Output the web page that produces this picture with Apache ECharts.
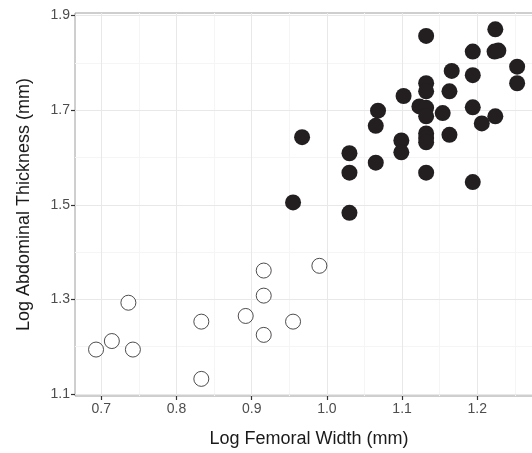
<!DOCTYPE html>
<html lang="en">
<head>
    <meta charset="UTF-8">
    <title>Femoral Width vs Abdominal Thickness</title>
    <script src="https://cdn.jsdelivr.net/npm/echarts@6/dist/echarts.min.js"></script>
    <style>
        html, body { margin: 0; background: #fff; overflow: hidden; }
        /* the panel runs a little past the right edge of the picture */
        #chart { width: 543px; height: 453px; }
    </style>
</head>
<body>
    <div id="chart"></div>
    <script>
        // Open circles (group 1)
        const openX = [0.693, 0.714, 0.736, 0.742, 0.833, 0.833, 0.892, 0.916, 0.916, 0.916, 0.955, 0.990];
        const openY = [1.194, 1.212, 1.293, 1.194, 1.253, 1.132, 1.265, 1.361, 1.308, 1.225, 1.253, 1.371];

        // Filled circles (group 2)
        const filledX = [1.132, 1.224, 1.194, 1.223, 1.228, 1.166, 1.194, 1.253, 1.253, 1.132,
                         1.132, 1.163, 1.102, 1.123, 1.132, 1.132, 1.154, 1.194, 1.224, 1.206,
                         1.068, 1.065, 1.163, 1.132, 1.132, 1.132, 1.099, 1.099, 1.030, 1.030,
                         1.065, 1.132, 1.194, 0.967, 0.955, 1.030];
        const filledY = [1.857, 1.871, 1.824, 1.824, 1.826, 1.783, 1.774, 1.792, 1.757, 1.757,
                         1.740, 1.740, 1.730, 1.708, 1.705, 1.687, 1.694, 1.706, 1.687, 1.672,
                         1.699, 1.667, 1.648, 1.651, 1.641, 1.632, 1.636, 1.611, 1.609, 1.568,
                         1.589, 1.568, 1.548, 1.643, 1.505, 1.483];

        // Tick / grid values
        const xTicks = [0.7, 0.8, 0.9, 1.0, 1.1, 1.2];
        const xMinor = [0.75, 0.85, 0.95, 1.05, 1.15, 1.25];
        const yTicks = [1.1, 1.3, 1.5, 1.7, 1.9];
        const yMinor = [1.2, 1.4, 1.6, 1.8];

        const chart = echarts.init(document.getElementById('chart'));
        const font = "'Liberation Sans', Arial, sans-serif";

        const pairs = (xs, ys) => xs.map((x, i) => [x, ys[i]]);
        const gridLines = (vals, key) => vals.map(v => ({ [key]: v }));

        chart.setOption({
            animation: false,
            grid: {
                left: 75, top: 13, right: 0, bottom: 55.5,
                show: true, borderColor: '#9e9e9e', borderWidth: 1
            },
            xAxis: {
                type: 'value', min: 0.665, max: 1.2874,
                name: 'Log Femoral Width (mm)',
                nameLocation: 'middle', nameGap: 34,
                nameTextStyle: { fontFamily: font, fontSize: 18, color: '#1a1a1a' },
                axisLine: { show: false },
                axisTick: { show: true, customValues: xTicks, length: 4, lineStyle: { color: '#333', width: 1.2 } },
                axisLabel: { customValues: xTicks, formatter: v => v.toFixed(1), fontFamily: font, fontSize: 14, color: '#4d4d4d', margin: 6 },
                splitLine: { show: false }
            },
            yAxis: {
                type: 'value', min: 1.0958, max: 1.9055,
                name: 'Log Abdominal Thickness (mm)',
                nameLocation: 'middle', nameGap: 42,
                nameTextStyle: { fontFamily: font, fontSize: 18, color: '#1a1a1a' },
                axisLine: { show: false },
                axisTick: { show: true, customValues: yTicks, length: 4, lineStyle: { color: '#333', width: 1.2 } },
                axisLabel: { customValues: yTicks, formatter: v => v.toFixed(1), fontFamily: font, fontSize: 14, color: '#4d4d4d', margin: 5 },
                splitLine: { show: false }
            },
            series: [
                {
                    // minor grid lines
                    type: 'scatter', data: [], z: 0, silent: true,
                    markLine: {
                        silent: true, symbol: 'none', label: { show: false },
                        animation: false, z: 0,
                        lineStyle: { color: '#f5f5f5', width: 1, type: 'solid' },
                        data: gridLines(xMinor, 'xAxis').concat(gridLines(yMinor, 'yAxis'))
                    }
                },
                {
                    // major grid lines
                    type: 'scatter', data: [], z: 1, silent: true,
                    markLine: {
                        silent: true, symbol: 'none', label: { show: false },
                        animation: false, z: 1,
                        lineStyle: { color: '#e8e8e8', width: 1, type: 'solid' },
                        data: gridLines(xTicks, 'xAxis').concat(gridLines(yTicks, 'yAxis'))
                    }
                },
                {
                    type: 'scatter', z: 3,
                    data: pairs(openX, openY),
                    symbolSize: 15,
                    itemStyle: { color: '#fff', borderColor: '#231f20', borderWidth: 1 }
                },
                {
                    type: 'scatter', z: 4,
                    data: pairs(filledX, filledY),
                    symbolSize: 16,
                    itemStyle: { color: '#231f20', opacity: 1 }
                }
            ]
        });
    </script>
</body>
</html>
